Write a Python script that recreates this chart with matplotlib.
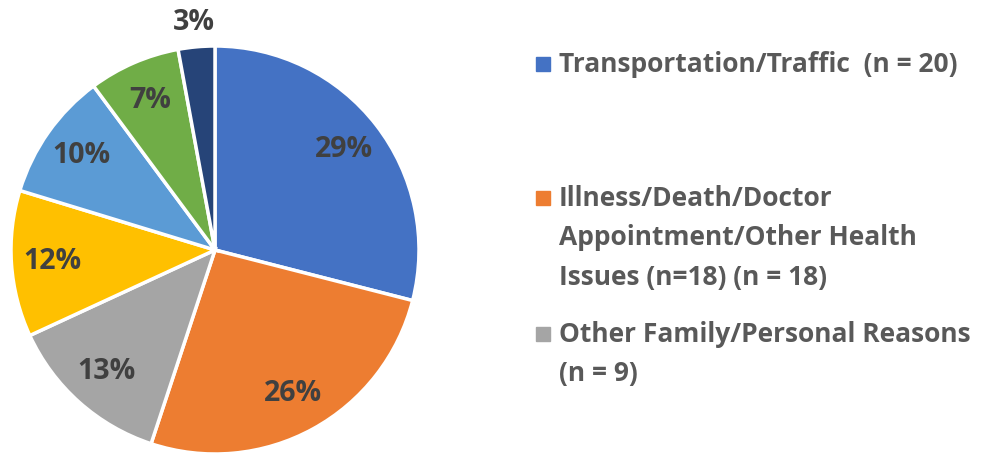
import matplotlib
matplotlib.use("Agg")
import matplotlib.pyplot as plt
from matplotlib.patches import Rectangle

# data
categories = ["Transportation/Traffic  (n = 20)",
              "Illness/Death/Doctor Appointment/Other Health Issues (n=18) (n = 18)",
              "Other Family/Personal Reasons (n = 9)",
              "Other 4", "Other 5", "Other 6", "Other 7"]
counts = [20, 18, 9, 8, 7, 5, 2]
colors = ["#4472C4", "#ED7D31", "#A5A5A5", "#FFC000", "#5B9BD5", "#70AD47", "#264478"]

# legend lines as shown (wrapped)
legend_lines = [
    ["Transportation/Traffic  (n = 20)"],
    ["Illness/Death/Doctor", "Appointment/Other Health", "Issues (n=18) (n = 18)"],
    ["Other Family/Personal Reasons", "(n = 9)"],
]
legend_y = [64, 198, 334]   # top line centre, px from top
line_step = 39.5

W, H = 982, 453
fig = plt.figure(figsize=(W / 100, H / 100), dpi=100)
cx, cy, r = 215, 250, 204
ax = fig.add_axes([(cx - r) / W, (H - cy - r) / H, 2 * r / W, 2 * r / H])

wedges, texts, autotexts = ax.pie(
    counts, colors=colors, startangle=90, counterclock=False,
    autopct=lambda p: "{:.0f}%".format(p), pctdistance=0.80,
    wedgeprops=dict(edgecolor="white", linewidth=2.5),
    textprops=dict(fontsize=20.5, fontweight="bold", color="#404040", family="Open Sans"))
# smallest slice label sits outside
autotexts[-1].set_position((autotexts[-1].get_position()[0] * 1.40,
                            autotexts[-1].get_position()[1] * 1.40))
ax.set_xlim(-1, 1)
ax.set_ylim(-1, 1)
ax.set_aspect("equal")
ax.axis("off")

# legend (only first three entries visible)
for i, lines in enumerate(legend_lines):
    y0 = legend_y[i]
    fig.patches.append(Rectangle((536 / W, 1 - (y0 + 7) / H), 14 / W, 14 / H,
                                 transform=fig.transFigure, color=colors[i]))
    for j, line in enumerate(lines):
        fig.text(559 / W, 1 - (y0 + j * line_step) / H, line, fontsize=19,
                 fontweight="bold", color="#595959", family="Open Sans", va="center")

fig.savefig("out.png", dpi=100)
